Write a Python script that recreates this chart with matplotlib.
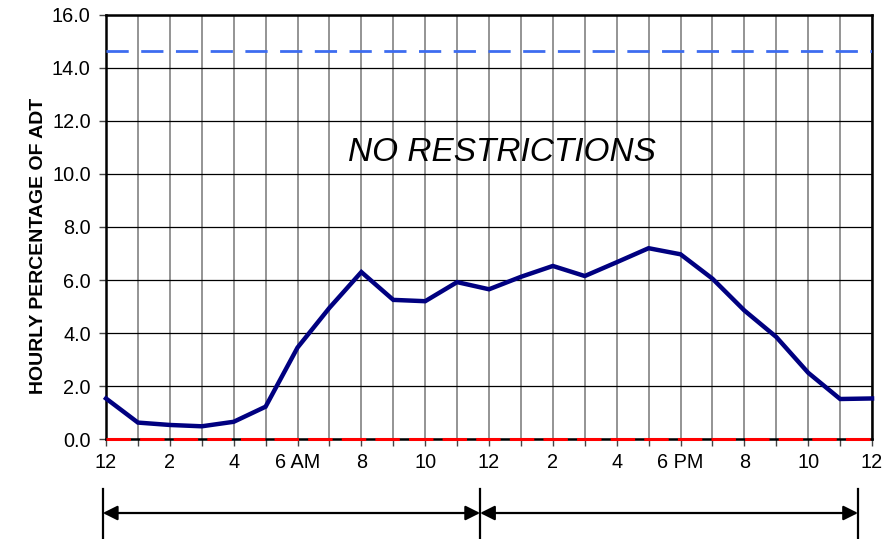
import matplotlib
matplotlib.use("Agg")
import matplotlib.pyplot as plt
import matplotlib.transforms as mtransforms
from matplotlib.ticker import MultipleLocator

plt.rcParams['font.family'] = ['Liberation Sans', 'DejaVu Sans']

hours = list(range(25))
pct = [1.53, 0.62, 0.53, 0.48, 0.65, 1.22, 3.45, 4.95, 6.3, 5.25, 5.2, 5.92,
       5.65, 6.12, 6.53, 6.15, 6.67, 7.2, 6.97, 6.05, 4.85, 3.85, 2.5, 1.51, 1.53]
threshold = 14.65
xtick_pos = list(range(0, 25, 2))
xtick_labels = ['12', '2', '4', '6 AM', '8', '10', '12', '2', '4', '6 PM', '8', '10', '12']
ytick_pos = list(range(0, 17, 2))
ytick_labels = [f"{v:.1f}" for v in ytick_pos]
arrow_marks = [-0.1, 11.72, 23.56]

fig = plt.figure(figsize=(8.82, 5.39), dpi=100)
ax = fig.add_axes([0.1202, 0.1855, 0.8685, 0.7867])
ax.set_xlim(0, 24)
ax.set_ylim(0, 16)

ax.xaxis.set_minor_locator(MultipleLocator(1))
ax.set_xticks(xtick_pos)
ax.set_xticklabels(xtick_labels)
ax.set_yticks(ytick_pos)
ax.set_yticklabels(ytick_labels)
ax.tick_params(axis='both', which='both', direction='out', length=5, width=1,
               color='#444444', labelsize=14.3)
ax.tick_params(axis='x', pad=5)
ax.tick_params(axis='y', pad=6)

ax.grid(True, axis='x', which='both', color='#777777', linewidth=1.1, zorder=0)
ax.grid(True, axis='y', which='major', color='black', linewidth=0.9, zorder=0)
ax.set_axisbelow(True)

for s in ['left', 'right', 'top', 'bottom']:
    ax.spines[s].set_linewidth(1.8)
    ax.spines[s].set_color('black')

ax.plot(hours, pct, color='#000080', linewidth=3.2, zorder=5, clip_on=False,
        solid_joinstyle='miter')
ax.axhline(threshold, color='#3d6cf0', linewidth=2.0, dashes=(8, 4.5), zorder=4)
ax.axhline(0, color='#ff0000', linewidth=2.2, dashes=(8, 3), zorder=6, clip_on=False)

ax.text(12.4, 10.8, 'NO RESTRICTIONS', fontsize=24, style='italic',
        ha='center', va='center', zorder=7)

ax.set_ylabel('HOURLY PERCENTAGE OF ADT', fontsize=14, fontweight='bold')
ax.yaxis.set_label_coords(-0.077, 0.455)

trans = mtransforms.blended_transform_factory(ax.transData, ax.transAxes)
for xm in arrow_marks:
    ax.plot([xm, xm], [-0.118, -0.24], transform=trans, color='black',
            linewidth=1.6, clip_on=False)
for a, b in [(arrow_marks[0], arrow_marks[1]), (arrow_marks[1], arrow_marks[2])]:
    ax.annotate('', xy=(b, -0.1745), xytext=(a, -0.1745), xycoords=trans,
                textcoords=trans,
                arrowprops=dict(arrowstyle='<|-|>', color='black', lw=1.6,
                                mutation_scale=22, shrinkA=0, shrinkB=0))

fig.savefig('out.png', dpi=100)
